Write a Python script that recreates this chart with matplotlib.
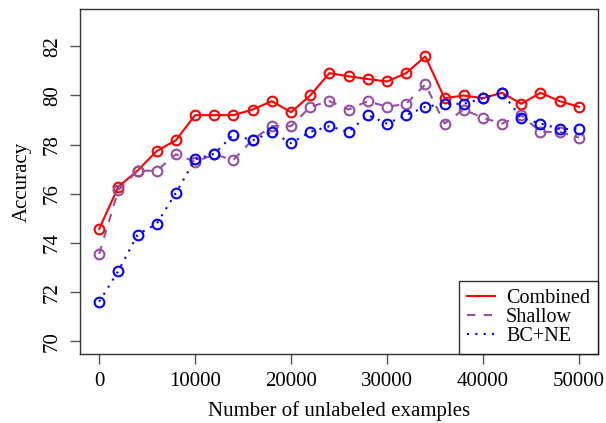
import matplotlib
matplotlib.use("Agg")
import matplotlib.pyplot as plt
import numpy as np

plt.rcParams['font.family'] = ['Liberation Serif', 'DejaVu Serif']

# number of unlabeled examples
n_unlab = np.arange(0, 50001, 2000)

combined = [74.57, 76.29, 76.94, 77.74, 78.18, 79.20, 79.20, 79.20, 79.43, 79.77,
            79.32, 80.00, 80.91, 80.78, 80.67, 80.57, 80.91, 81.59, 79.89, 80.00,
            79.89, 80.11, 79.66, 80.11, 79.77, 79.54]
shallow = [73.55, 76.15, 76.94, 76.94, 77.61, 77.30, 77.60, 77.38, 78.20, 78.75,
           78.75, 79.54, 79.77, 79.43, 79.77, 79.54, 79.66, 80.45, 78.86, 79.43,
           79.09, 78.86, 79.20, 78.52, 78.52, 78.29]
bcne = [71.61, 72.86, 74.34, 74.78, 76.04, 77.40, 77.63, 78.41, 78.17, 78.52,
        78.06, 78.52, 78.75, 78.52, 79.20, 78.86, 79.20, 79.54, 79.66, 79.66,
        79.89, 80.11, 79.09, 78.86, 78.64, 78.64]

series_names = ["Combined", "Shallow", "BC+NE"]
colors = ["#FF0000", "#984EA3", "#0000FF"]
dash = [(None), (4, 4), (1, 3)]

fig = plt.figure(figsize=(6.06, 4.23), dpi=100)
ax = fig.add_axes([80/606, 69/423, 518/606, 345/423])

for vals, name, col, d in zip([combined, shallow, bcne], series_names, colors, dash):
    ln, = ax.plot(n_unlab, vals, color=col, lw=1.5, marker='o', ms=7,
                  mfc='none', mec=col, mew=1.5, label=name)
    if d is not None:
        ln.set_dashes(d)

ax.set_xlim(-2000, 52000)
ax.set_ylim(69.48, 83.52)
ax.set_xticks(np.arange(0, 50001, 10000))
ax.set_yticks(np.arange(70, 83, 2))
ax.set_yticklabels([str(v) for v in range(70, 83, 2)], rotation=90, va='center')
ax.tick_params(direction='out', length=7, width=1, colors='#555555',
               labelcolor='black', labelsize=15, pad=6)
for s in ax.spines.values():
    s.set_color('#333333')
    s.set_linewidth(1)

ax.set_xlabel("Number of unlabeled examples", fontsize=15, labelpad=7)
ax.set_ylabel("Accuracy", fontsize=15, labelpad=8)

leg = ax.legend(loc='lower right', fontsize=14.5, frameon=True, fancybox=False,
                edgecolor='black', borderaxespad=0, handlelength=1.4,
                labelspacing=0.0, borderpad=0.4, handletextpad=0.55)
leg.get_frame().set_linewidth(1)
for h in leg.legend_handles:
    h.set_marker('')

fig.savefig("out.png", dpi=100)
